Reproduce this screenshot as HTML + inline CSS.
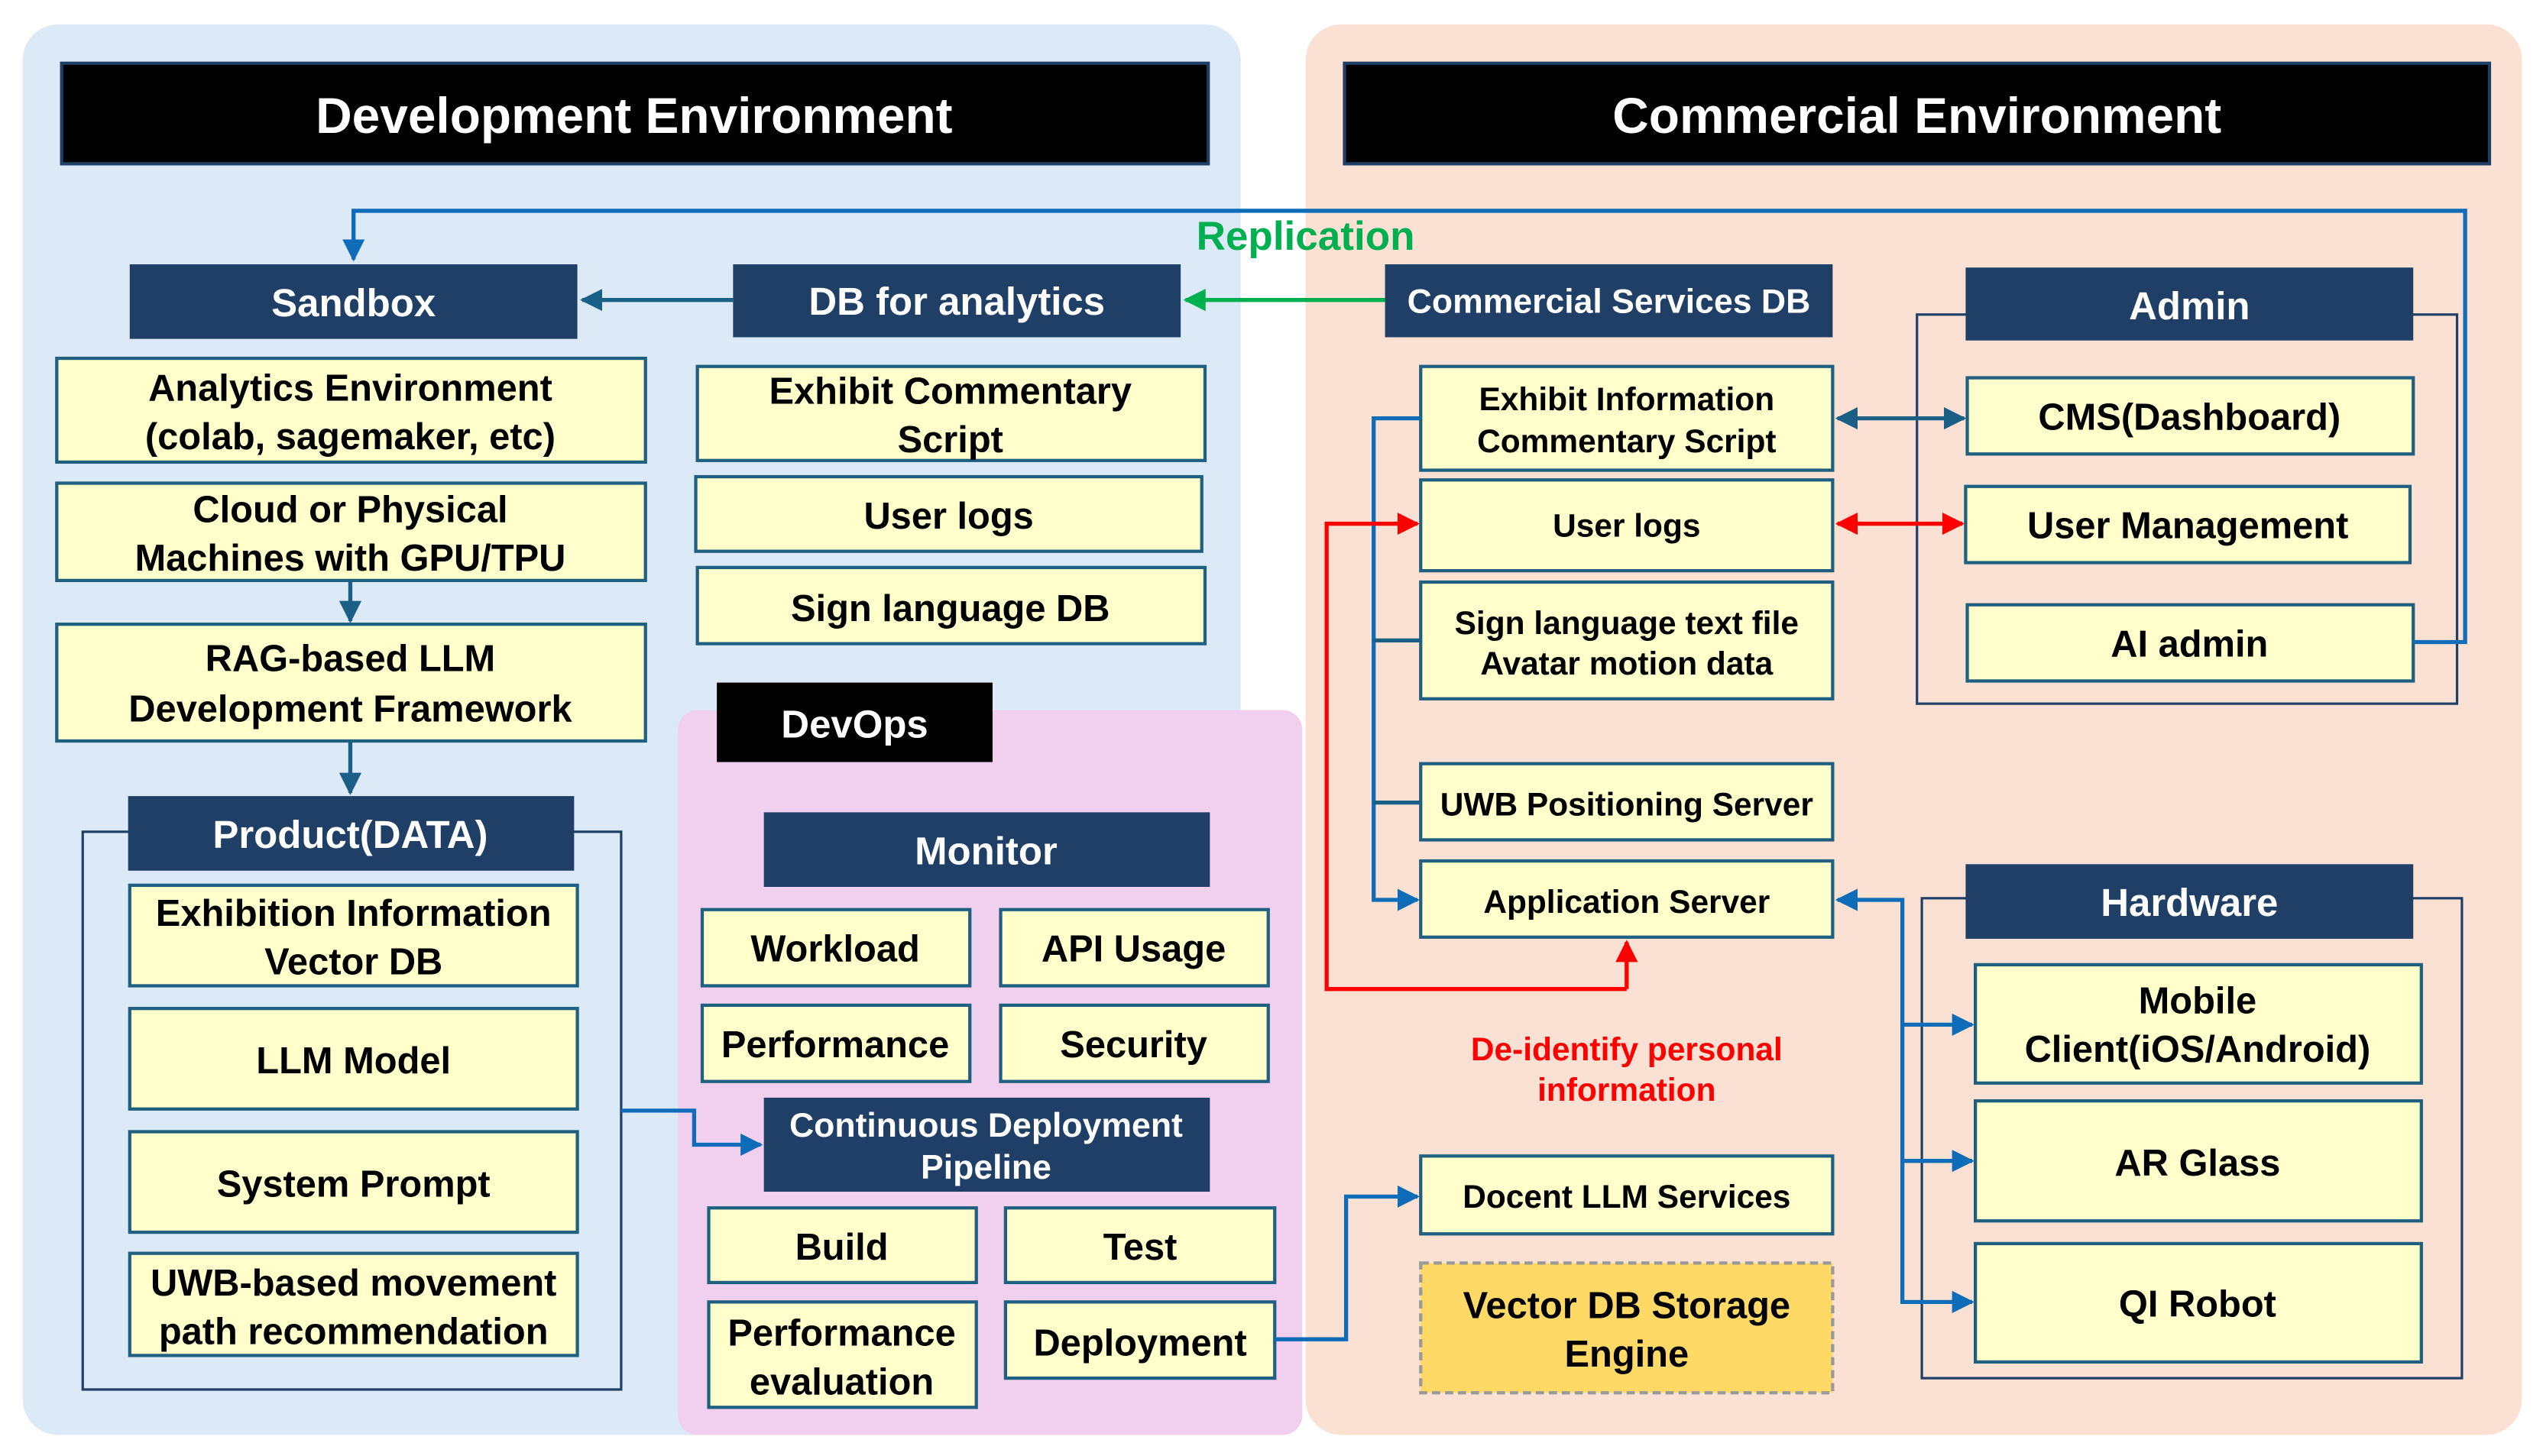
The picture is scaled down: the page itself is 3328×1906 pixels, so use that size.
<!DOCTYPE html>
<html><head><meta charset="utf-8"><style>html,body{margin:0;padding:0;background:#fff}svg{display:block}text{font-family:"Liberation Sans",sans-serif;font-weight:bold}</style></head><body>
<svg width="3328" height="1906" viewBox="0 0 1568 898" xmlns="http://www.w3.org/2000/svg">
<defs>
<marker id="ab" viewBox="0 0 10 10" refX="9" refY="5" markerWidth="5.5" markerHeight="5.5" orient="auto-start-reverse"><path d="M0,0L10,5L0,10z" fill="#1a5f85"/></marker>
<marker id="ab2" viewBox="0 0 10 10" refX="9" refY="5" markerWidth="5.5" markerHeight="5.5" orient="auto-start-reverse"><path d="M0,0L10,5L0,10z" fill="#0f6cb8"/></marker>
<marker id="ag" viewBox="0 0 10 10" refX="9" refY="5" markerWidth="5.5" markerHeight="5.5" orient="auto"><path d="M0,0L10,5L0,10z" fill="#00b050"/></marker>
<marker id="ar" viewBox="0 0 10 10" refX="9" refY="5" markerWidth="5.5" markerHeight="5.5" orient="auto-start-reverse"><path d="M0,0L10,5L0,10z" fill="#ff0000"/></marker>
</defs>
<rect x="14" y="15" width="751" height="870" rx="22" fill="#dce9f7"/>
<rect x="805" y="15" width="750" height="870" rx="22" fill="#fbe1d4"/>
<rect x="418" y="438" width="385" height="447" rx="12" fill="#f0d0ee"/>
<rect x="38" y="39" width="707" height="62" fill="#000" stroke="#1f3f66" stroke-width="2"/>
<text x="391" y="82" font-size="31" fill="#fff" text-anchor="middle">Development Environment</text>
<rect x="829" y="39" width="706" height="62" fill="#000" stroke="#1f3f66" stroke-width="2"/>
<text x="1182" y="82" font-size="31" fill="#fff" text-anchor="middle">Commercial Environment</text>

<g fill="none" stroke="#1f3f66" stroke-width="1.5">
<rect x="51" y="513" width="332" height="344"/>
<rect x="1182" y="194" width="333" height="240"/>
<rect x="1185" y="554" width="333" height="296"/>
</g>

<g fill="#1f3f66">
<rect x="80" y="163" width="276" height="46"/><rect x="452" y="163" width="276" height="45"/>
<rect x="854" y="163" width="276" height="45"/><rect x="1212" y="165" width="276" height="45"/>
<rect x="79" y="491" width="275" height="46"/><rect x="471" y="501" width="275" height="46"/>
<rect x="471" y="677" width="275" height="58"/><rect x="1212" y="533" width="276" height="46"/>
</g>
<rect x="442" y="421" width="170" height="49" fill="#000"/>
<g fill="#fff" text-anchor="middle" font-size="24">
<text x="218" y="195">Sandbox</text><text x="590" y="194">DB for analytics</text>
<text x="992" y="193" font-size="21">Commercial Services DB</text><text x="1350" y="197">Admin</text>
<text x="216" y="523">Product(DATA)</text><text x="608" y="533">Monitor</text>
<text x="608" y="701" font-size="21">Continuous Deployment</text><text x="608" y="727" font-size="21">Pipeline</text>
<text x="1350" y="565">Hardware</text><text x="527" y="455">DevOps</text>
</g>

<g fill="#ffffcc" stroke="#1f5f7f" stroke-width="2">
<rect x="35" y="221" width="363" height="64"/><rect x="35" y="298" width="363" height="60"/>
<rect x="35" y="385" width="363" height="72"/>
<rect x="80" y="546" width="276" height="62"/><rect x="80" y="622" width="276" height="62"/>
<rect x="80" y="698" width="276" height="62"/><rect x="80" y="773" width="276" height="63"/>
<rect x="430" y="226" width="313" height="58"/><rect x="429" y="294" width="312" height="46"/>
<rect x="430" y="350" width="313" height="47"/>
<rect x="433" y="561" width="165" height="47"/><rect x="617" y="561" width="165" height="47"/>
<rect x="433" y="620" width="165" height="47"/><rect x="617" y="620" width="165" height="47"/>
<rect x="437" y="745" width="165" height="46"/><rect x="620" y="745" width="166" height="46"/>
<rect x="437" y="803" width="165" height="65"/><rect x="620" y="803" width="166" height="47"/>
<rect x="876" y="226" width="254" height="64"/><rect x="876" y="296" width="254" height="56"/>
<rect x="876" y="359" width="254" height="72"/><rect x="876" y="471" width="254" height="47"/>
<rect x="876" y="531" width="254" height="47"/><rect x="876" y="713" width="254" height="48"/>
<rect x="1213" y="233" width="275" height="47"/><rect x="1212" y="300" width="274" height="47"/>
<rect x="1213" y="373" width="275" height="47"/>
<rect x="1218" y="595" width="275" height="73"/><rect x="1218" y="679" width="275" height="74"/>
<rect x="1218" y="767" width="275" height="73"/>
</g>
<rect x="876" y="779" width="254" height="80" fill="#ffd966" stroke="#999" stroke-width="2" stroke-dasharray="5,3"/>

<g fill="#000" text-anchor="middle" font-size="23">
<text x="216" y="247">Analytics Environment</text><text x="216" y="277">(colab, sagemaker, etc)</text>
<text x="216" y="322">Cloud or Physical</text><text x="216" y="352">Machines with GPU/TPU</text>
<text x="216" y="414">RAG-based LLM</text><text x="216" y="445">Development Framework</text>
<text x="218" y="571">Exhibition Information</text><text x="218" y="601">Vector DB</text>
<text x="218" y="662">LLM Model</text><text x="218" y="738">System Prompt</text>
<text x="218" y="799">UWB-based movement</text><text x="218" y="829">path recommendation</text>
<text x="586" y="249">Exhibit Commentary</text><text x="586" y="279">Script</text>
<text x="585" y="326">User logs</text><text x="586" y="383">Sign language DB</text>
<text x="515" y="593">Workload</text><text x="699" y="593">API Usage</text>
<text x="515" y="652">Performance</text><text x="699" y="652">Security</text>
<text x="519" y="777">Build</text><text x="703" y="777">Test</text>
<text x="519" y="830">Performance</text><text x="519" y="860">evaluation</text>
<text x="703" y="836">Deployment</text>
<g font-size="20">
<text x="1003" y="253">Exhibit Information</text><text x="1003" y="279">Commentary Script</text>
<text x="1003" y="331">User logs</text>
<text x="1003" y="391">Sign language text file</text><text x="1003" y="416">Avatar motion data</text>
<text x="1003" y="503">UWB Positioning Server</text><text x="1003" y="563">Application Server</text>
<text x="1003" y="745">Docent LLM Services</text>
</g>
<text x="1003" y="813">Vector DB Storage</text><text x="1003" y="843">Engine</text>
<text x="1350" y="265">CMS(Dashboard)</text><text x="1349" y="332">User Management</text>
<text x="1350" y="405">AI admin</text>
<text x="1355" y="625">Mobile</text><text x="1355" y="655">Client(iOS/Android)</text>
<text x="1355" y="725">AR Glass</text><text x="1355" y="812">QI Robot</text>
</g>
<text x="805" y="154" font-size="25" fill="#00b050" text-anchor="middle">Replication</text>
<text x="1003" y="654" font-size="20" fill="#ff0000" text-anchor="middle">De-identify personal</text>
<text x="1003" y="679" font-size="20" fill="#ff0000" text-anchor="middle">information</text>

<g fill="none" stroke-width="2.5">
<path d="M1488,396H1520V130H218V160" stroke="#0f6cb8" marker-end="url(#ab2)"/>
<path d="M452,185H359" stroke="#1a5f85" marker-end="url(#ab)"/>
<path d="M854,185H731" stroke="#00b050" marker-end="url(#ag)"/>
<path d="M216,358V383" stroke="#1a5f85" marker-end="url(#ab)"/>
<path d="M216,457V489" stroke="#1a5f85" marker-end="url(#ab)"/>
<path d="M383,685H428V706H469" stroke="#0f6cb8" marker-end="url(#ab2)"/>
<path d="M786,826H830V738H874" stroke="#0f6cb8" marker-end="url(#ab2)"/>
<path d="M876,258H847V555H874" stroke="#0f6cb8" marker-end="url(#ab2)"/>
<path d="M847,395H876M847,495H876" stroke="#1a5f85"/>
<path d="M1003,610H818V323H874" stroke="#ff0000" marker-end="url(#ar)"/>
<path d="M1003,610V581" stroke="#ff0000" marker-end="url(#ar)"/>
<path d="M1133,258H1211" stroke="#1a5f85" marker-start="url(#ab)" marker-end="url(#ab)"/>
<path d="M1133,323H1210" stroke="#ff0000" marker-start="url(#ar)" marker-end="url(#ar)"/>
<path d="M1133,555H1173V803H1216" stroke="#0f6cb8" marker-start="url(#ab2)" marker-end="url(#ab2)"/>
<path d="M1173,632H1216" stroke="#0f6cb8" marker-end="url(#ab2)"/>
<path d="M1173,716H1216" stroke="#0f6cb8" marker-end="url(#ab2)"/>
</g>
</svg>
</body></html>
